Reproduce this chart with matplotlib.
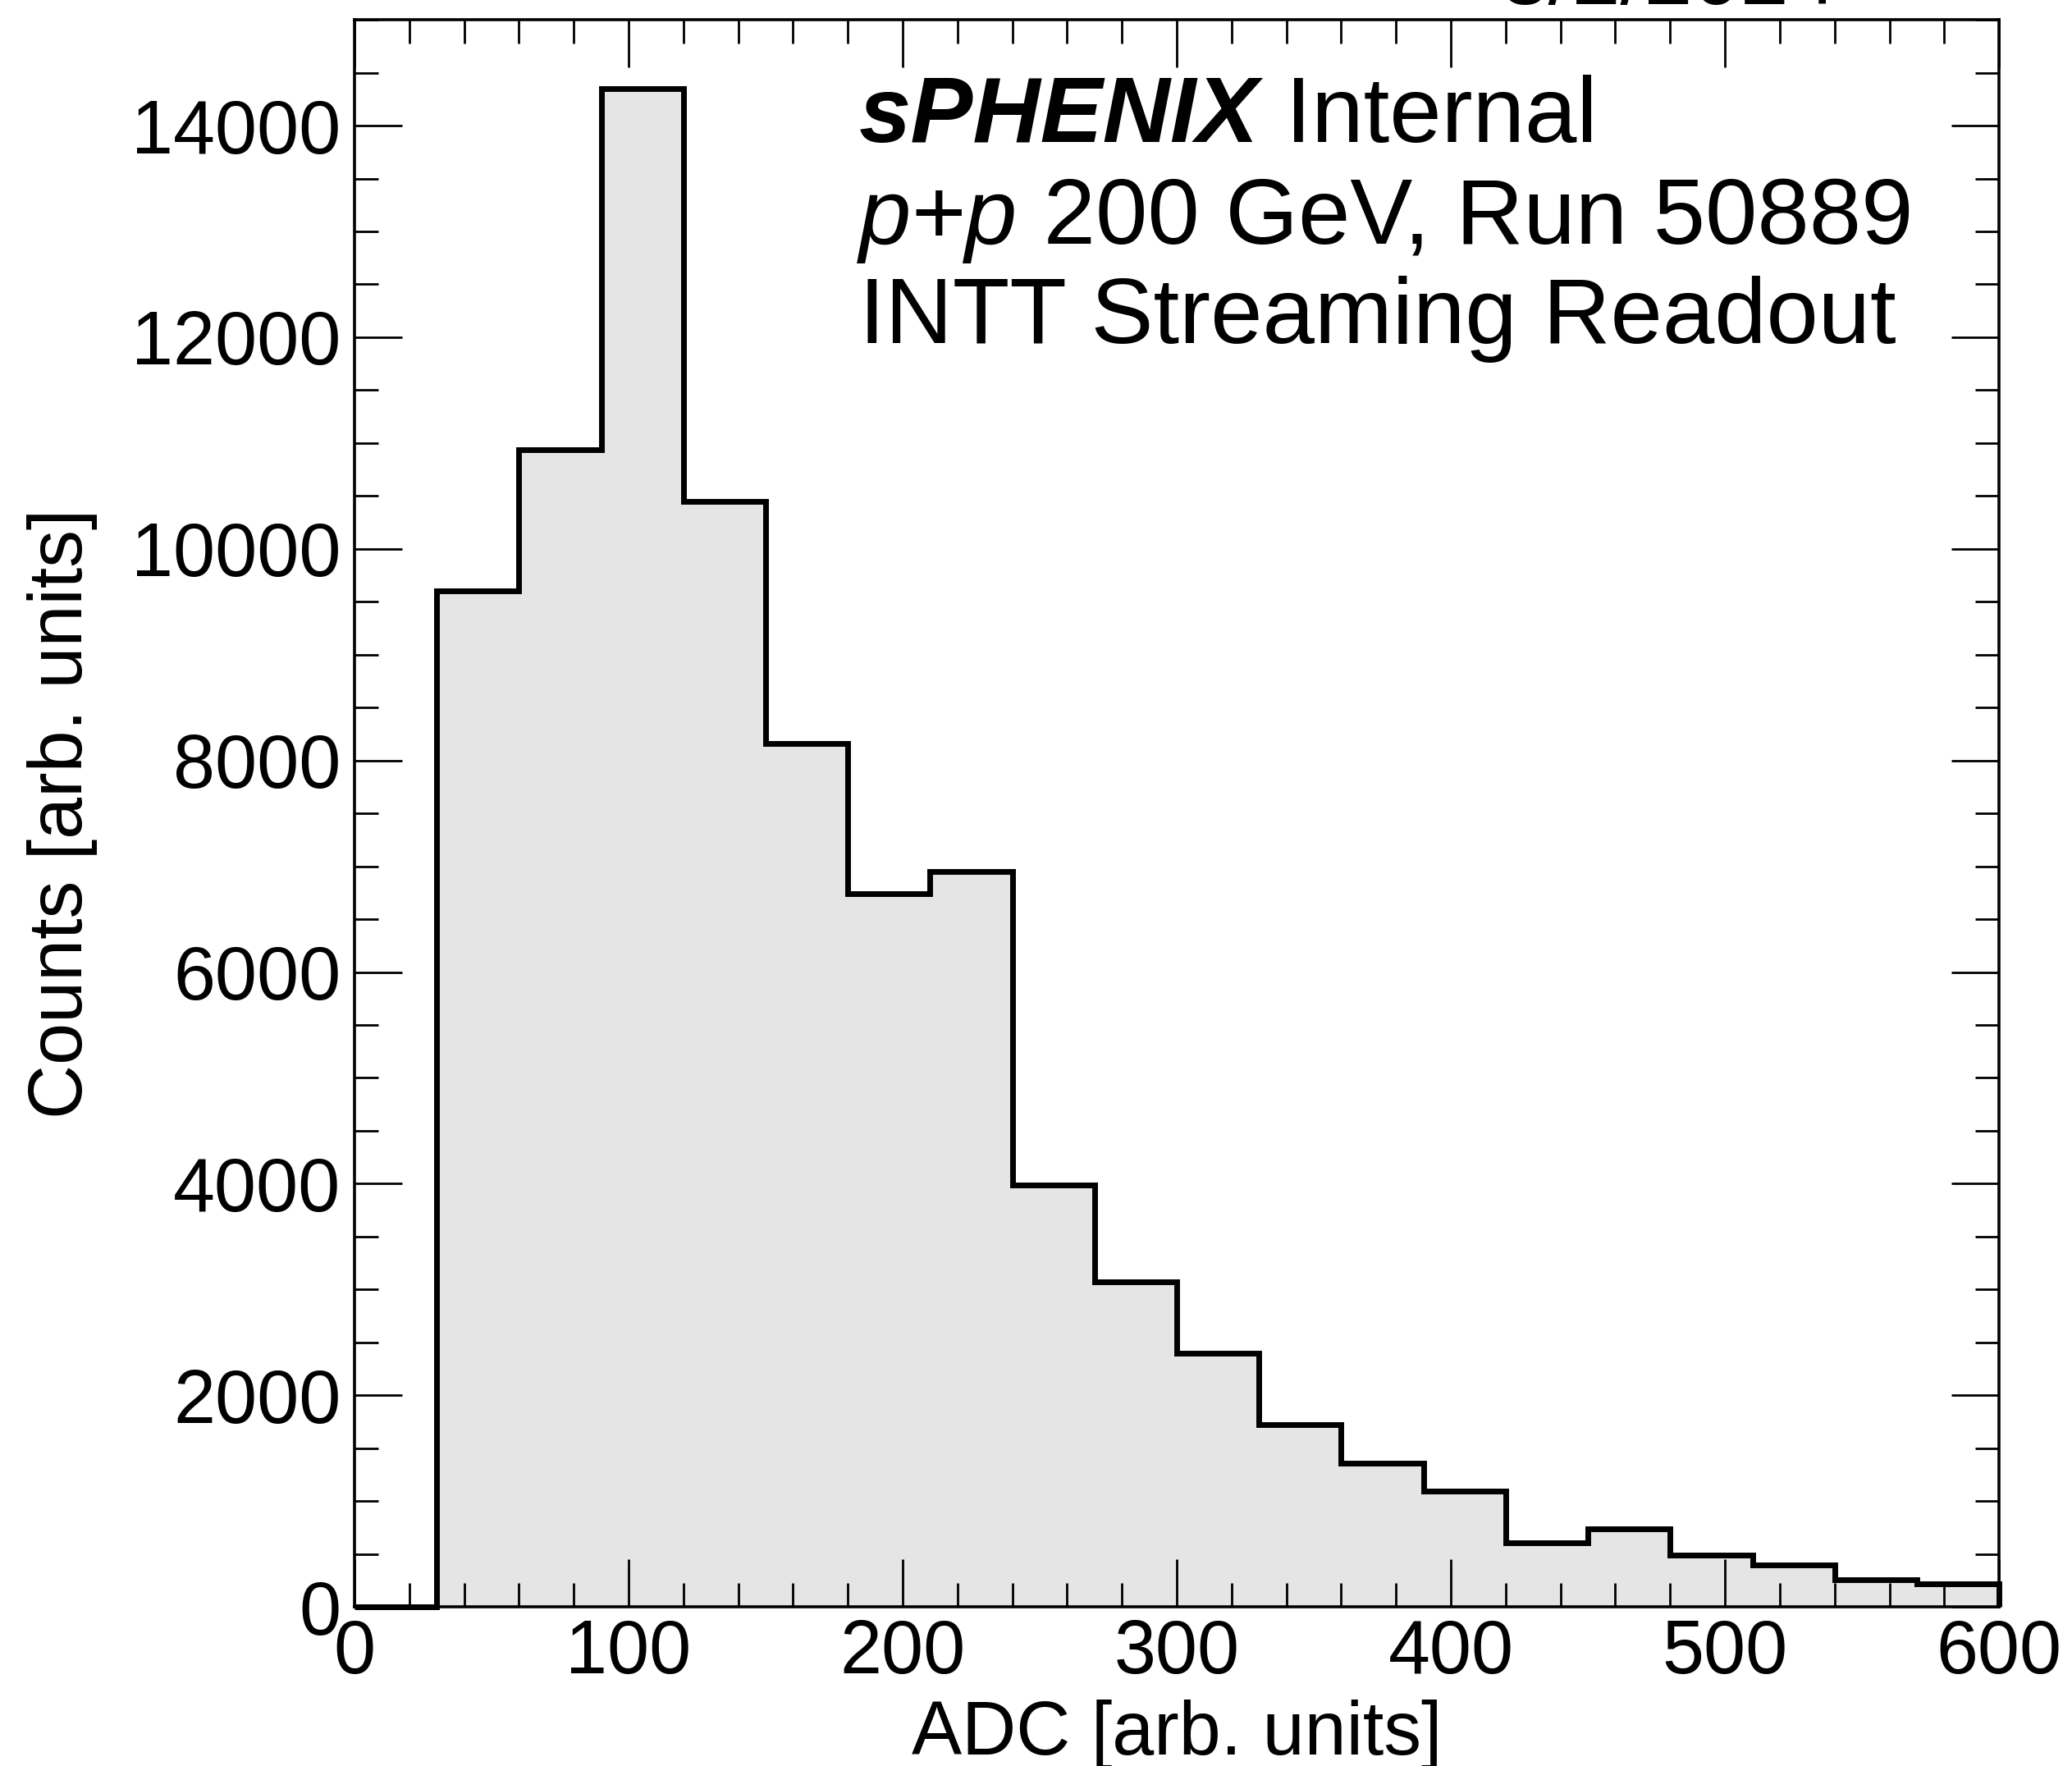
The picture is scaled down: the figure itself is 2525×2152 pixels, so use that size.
import numpy as np
import matplotlib
matplotlib.use("Agg")
import matplotlib.pyplot as plt
from matplotlib.ticker import MultipleLocator

# ADC distribution, 30-count bins from 0 to 600
bin_edges = np.arange(0, 601, 30)
counts = [0, 9600, 10940, 14350, 10450, 8160, 6740, 6950, 3985, 3075,
          2400, 1725, 1360, 1095, 608, 737, 489, 398, 258, 220]

x_label = "ADC [arb. units]"
y_label = "Counts [arb. units]"
label_lines = ["p+p 200 GeV, Run 50889", "INTT Streaming Readout"]
date_text = "3/2/2024"

plt.rcParams['font.family'] = ['Liberation Sans', 'DejaVu Sans']

fig = plt.figure(figsize=(25.25, 21.52), dpi=100)
ax = fig.add_axes([0.1711, 0.0901, 0.7937, 0.8987])

# Histogram: grey fill plus black outline
ax.stairs(counts, bin_edges, fill=True, facecolor='#e5e5e5', edgecolor='none')
ax.stairs(counts, bin_edges, baseline=0, color='black', linewidth=5.0,
          clip_on=False)

ax.set_xlim(0, 600)
ax.set_ylim(0, 15000)

# ROOT-like ticks on all four sides
ax.xaxis.set_major_locator(MultipleLocator(100))
ax.xaxis.set_minor_locator(MultipleLocator(20))
ax.yaxis.set_major_locator(MultipleLocator(2000))
ax.yaxis.set_minor_locator(MultipleLocator(500))
ax.tick_params(which='both', direction='in', top=True, right=True, width=2.0)
ax.tick_params(which='major', length=42, labelsize=66)
ax.tick_params(which='minor', length=21)
ax.tick_params(axis='y', which='major', pad=12)
ax.tick_params(axis='x', which='major', pad=10)
for s in ax.spines.values():
    s.set_linewidth(2.6)

ax.set_xlabel(x_label, fontsize=66)
ax.set_ylabel(y_label, fontsize=66)
ax.xaxis.label.set_va('baseline')
ax.yaxis.label.set_va('baseline')
ax.xaxis.set_label_coords(0.5, -0.093)
ax.yaxis.set_label_coords(-0.1657, 0.5)

# Labels in upper right
tx = 0.4147
t1 = fig.text(tx, 0.9196, "sPHENIX", fontsize=82, fontweight='bold',
              fontstyle='italic', va='baseline')
ax.annotate(" Internal", xy=(1, 0), xycoords=t1, fontsize=82,
            va='bottom', annotation_clip=False)
t2 = fig.text(tx, 0.862, "p+p", fontsize=82, fontstyle='italic', va='baseline')
ax.annotate(label_lines[0][3:], xy=(1, 0), xycoords=t2, fontsize=82,
            va='bottom', annotation_clip=False)
fig.text(tx, 0.8058, label_lines[1], fontsize=82, va='baseline')

# Date, mostly cut off at the top of the canvas (as in the original)
fig.text(0.887, 0.9975, date_text, fontsize=76, ha='right', va='baseline')

fig.savefig("out.png", dpi=100)
